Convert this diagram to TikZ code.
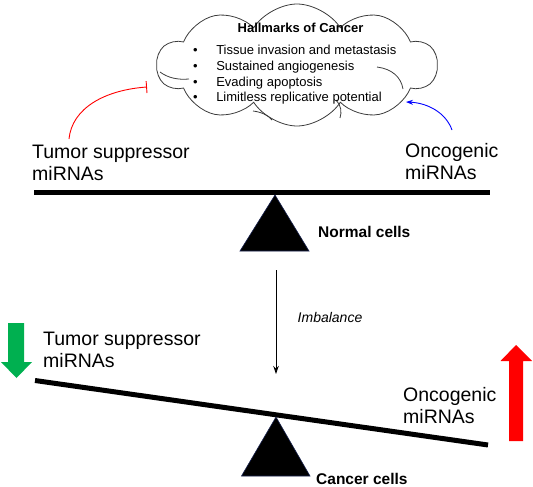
\documentclass[tikz,border=0pt]{standalone}
\usepackage{fontspec}
\setmainfont{Liberation Sans}
\usetikzlibrary{shapes.symbols,arrows.meta}
\definecolor{cloudline}{RGB}{60,60,60}
\definecolor{arrgreen}{RGB}{0,176,80}
\definecolor{navy}{RGB}{25,35,80}
\tikzset{
  big/.style={font=\fontsize{19.5}{22}\selectfont, inner sep=0pt, align=left},
  bold/.style={font=\fontsize{15.5}{18}\selectfont\bfseries, inner sep=0pt},
  beam/.style={line width=5pt, black},
  fulcrum/.style={fill=black, draw=navy, line width=0.6pt},
  thinarrow/.style={line width=0.9pt},
  innerarc/.style={draw=cloudline, line width=0.8pt},
}
\begin{document}
\begin{tikzpicture}[x=1pt,y=-1pt]
\useasboundingbox (0,0) rectangle (533,487);
% cloud
\node[cloud, draw=cloudline, line width=0.8pt, cloud puffs=10, cloud puff arc=115,
      minimum width=280pt, minimum height=122pt, inner sep=0pt, aspect=2.3] (cloud) at (297,65) {};
\draw[innerarc] (160,72) .. controls (168,78) and (178,80) .. (189,79);
\draw[innerarc] (377,67) .. controls (392,69) and (401,77) .. (403,89);
\draw[innerarc] (336,100) .. controls (341,105) and (342,112) .. (340,118);
\draw[innerarc] (253,111) .. controls (261,112) and (268,115) .. (272,120);
\node[font=\fontsize{13}{15.6}\selectfont\bfseries, anchor=base, inner sep=0pt] (title) at (300.5,33) {Hallmarks of Cancer};
\node[font=\fontsize{13}{15.6}\selectfont, anchor=base west, inner sep=0pt] (list) at (193,55)
  {\begin{tabular}[t]{@{}l@{\hspace{18.5pt}}l@{}}
   • & Tissue invasion and metastasis\\
   • & Sustained angiogenesis\\
   • & Evading apoptosis\\
   • & Limitless replicative potential
   \end{tabular}};
% top balance
\coordinate (b1l) at (34,192.5);
\coordinate (b1r) at (490,192.5);
\draw[beam] (b1l) -- (b1r);
\coordinate (t1a) at (275,195);
\coordinate (t1l) at (240,251);
\coordinate (t1r) at (309,251);
\draw[fulcrum] (t1a) -- (t1l) -- (t1r) -- cycle;
\node[bold, anchor=base west] (normal) at (318,237) {Normal cells};
\node[big, anchor=base west] (tsTop) at (32,180) {Tumor suppressor\\miRNAs};
\node[big, anchor=base west] (onTop) at (405,179) {Oncogenic\\miRNAs};
% inhibition / activation
\coordinate (redS) at (69,139);
\coordinate (redE) at (147,87);
\draw[red, thinarrow, -{Bar[width=12pt]}] (redS) .. controls (72,108) and (105,90) .. (redE);
\coordinate (blueS) at (452,130);
\coordinate (blueE) at (406,102);
\draw[blue, thinarrow, -{Stealth[length=7pt,width=5pt]}] (blueS) .. controls (446,113) and (428,103) .. (blueE);
% imbalance
\coordinate (imS) at (276,270);
\coordinate (imE) at (276,374);
\draw[black, thinarrow, -{Stealth[length=8pt,width=5.5pt]}] (imS) -- (imE);
\node[font=\fontsize{14}{16}\selectfont\itshape, inner sep=0pt] (imb) at (330,317) {Imbalance};
% bottom balance
\coordinate (b2l) at (35,380.5);
\coordinate (b2r) at (488,445);
\draw[beam] (b2l) -- (b2r);
\coordinate (t2a) at (276,417);
\coordinate (t2l) at (241.5,476);
\coordinate (t2r) at (310,476);
\draw[fulcrum] (t2a) -- (t2l) -- (t2r) -- cycle;
\node[bold, anchor=base west] (cancer) at (316,484) {Cancer cells};
\node[big, anchor=base west] (tsBot) at (43,367) {Tumor suppressor\\miRNAs};
\node[big, anchor=base west] (onBot) at (403,423) {Oncogenic\\miRNAs};
% big arrows
\fill[arrgreen] (8,323) -- (24,323) -- (24,362) -- (32,362) -- (16.5,378) -- (1,362) -- (8,362) -- cycle;
\fill[red] (509,441) -- (523,441) -- (523,361) -- (532,361) -- (516,345) -- (500.5,361) -- (509,361) -- cycle;
\end{tikzpicture}
\end{document}
